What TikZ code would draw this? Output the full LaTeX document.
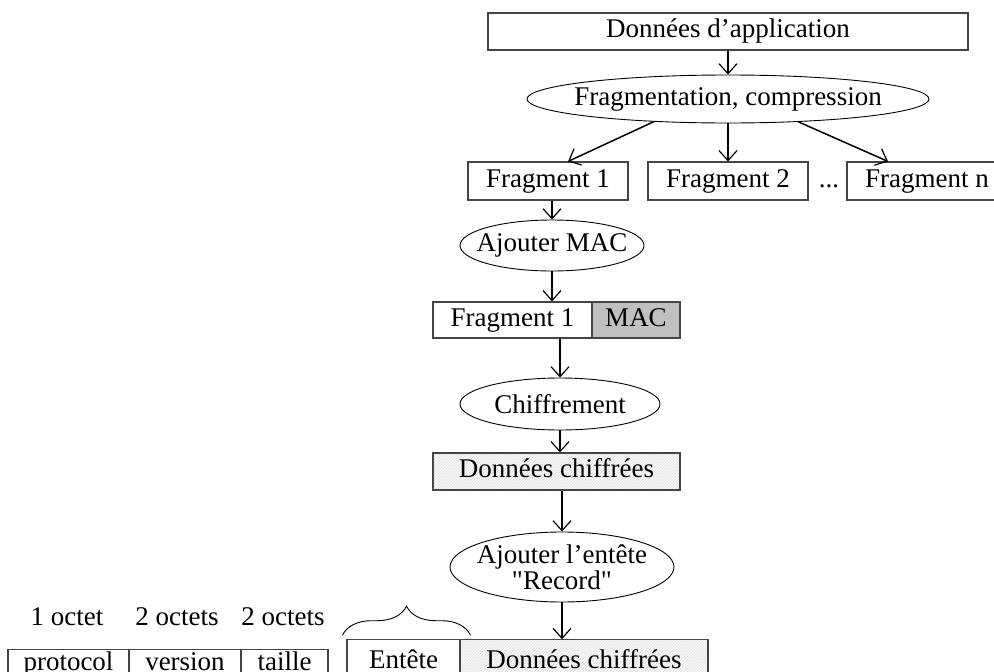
\documentclass[tikz,border=0pt]{standalone}
\usepackage{fontspec}
% plain family: straight " characters stay straight
\newfontfamily\diagfont{Liberation Serif}
\usetikzlibrary{shapes.geometric,arrows.meta,decorations.pathreplacing,patterns}
\definecolor{macgray}{HTML}{C0C0C0}
\definecolor{edgegray}{HTML}{454545}
\begin{document}
\begin{tikzpicture}[x=1pt,y=-1pt,
  every node/.style={font=\diagfont\fontsize{27}{28}\selectfont},
  box/.style={draw=edgegray, line width=1.1pt, rectangle, inner sep=0pt,
    text height=18.5pt, text depth=6pt},
  ell/.style={draw=black, line width=0.9pt, ellipse, inner sep=0pt},
  lbl/.style={inner sep=0pt, align=center},
  hatched/.style={preaction={fill=gray!5}, pattern=north east lines, pattern color=gray!25},
  arr/.style={draw=black, line width=1.5pt, -{Straight Barb[length=10pt,width=18pt,line width=1.2pt]}}
]
\useasboundingbox (0,0) rectangle (994,672);

% application data and fragmentation
\node[box, minimum width=480pt, minimum height=37pt] (app) at (728,31.5) {Données d’application};
\node[ell, minimum width=402pt, minimum height=48pt] (frag) at (728,99) {};
\node[lbl] (fragtxt) at (frag.center) {Fragmentation, compression};

% fragments
\node[box, minimum width=160pt, minimum height=38pt] (f1) at (548,181) {Fragment 1};
\node[box, minimum width=160pt, minimum height=38pt] (f2) at (728,181) {Fragment 2};
\node[inner sep=0pt, anchor=base] (dots) at (829,187) {...};
\node[box, minimum width=160pt, minimum height=38pt] (fn) at (927,181) {Fragment n};

\draw[arr] (app.south) -- (frag.north);
\draw[arr] (frag.197) -- ([xshift=20pt]f1.north);
\draw[arr] (frag.south) -- (f2.north);
\draw[arr] (frag.342) -- ([xshift=-39pt]fn.north);

% MAC
\node[ell, minimum width=184pt, minimum height=51pt] (addmac) at (552,245.5) {};
\node[lbl] (addmactxt) at (addmac.center) {Ajouter MAC};
\node[box, minimum width=159pt, minimum height=36pt] (frg) at (512.5,320) {Fragment 1};
\node[box, fill=macgray, minimum width=88pt, minimum height=36pt] (mac) at (636,320) {MAC};

\draw[arr] (f1.south -| addmac.north) -- (addmac.north);
\draw[arr] (addmac.south) -- (addmac.south |- frg.north);

% encryption
\node[ell, minimum width=200pt, minimum height=52pt] (chif) at (560,404) {};
\node[lbl] (chiftxt) at (chif.center) {Chiffrement};
\node[box, hatched, minimum width=247pt, minimum height=37pt] (dc) at (556.5,471.5) {Données chiffrées};

\draw[arr] (frg.south -| chif.north) -- (chif.north);
\draw[arr] (chif.south) -- (chif.south |- dc.north);

% record header
\node[ell, minimum width=224pt, minimum height=70pt] (rec) at (562,567) {};
\node[lbl, font=\diagfont\fontsize{27}{26}\selectfont] (rectxt) at (rec.center) {Ajouter l’entête\\"Record"};

\node[box, minimum width=113pt, minimum height=45.5pt] (ent) at (403.5,662.5) {Entête};
\node[box, hatched, minimum width=248pt, minimum height=45.5pt] (dcb) at (584,662.5) {Données chiffrées};

\draw[arr] (dc.south -| rec.north) -- (rec.north);
\draw[arr] (rec.south) -- (rec.south |- dcb.north);

\draw[line width=0.9pt, decorate, decoration={brace, amplitude=29pt}]
  ([xshift=-4pt,yshift=4pt]ent.north west) -- ([xshift=10pt,yshift=4pt]ent.north east);

% header fields
\node[lbl] (o1) at (67,617) {1 octet};
\node[lbl] (o2) at (177,617) {2 octets};
\node[lbl] (o3) at (283,617) {2 octets};
\node[box, minimum width=121pt, minimum height=29.5pt] (prot) at (68.5,664) {protocol};
\node[box, minimum width=112pt, minimum height=29.5pt] (ver) at (185,664) {version};
\node[box, minimum width=87pt, minimum height=29.5pt] (tai) at (284.5,664) {taille};
\end{tikzpicture}
\end{document}
